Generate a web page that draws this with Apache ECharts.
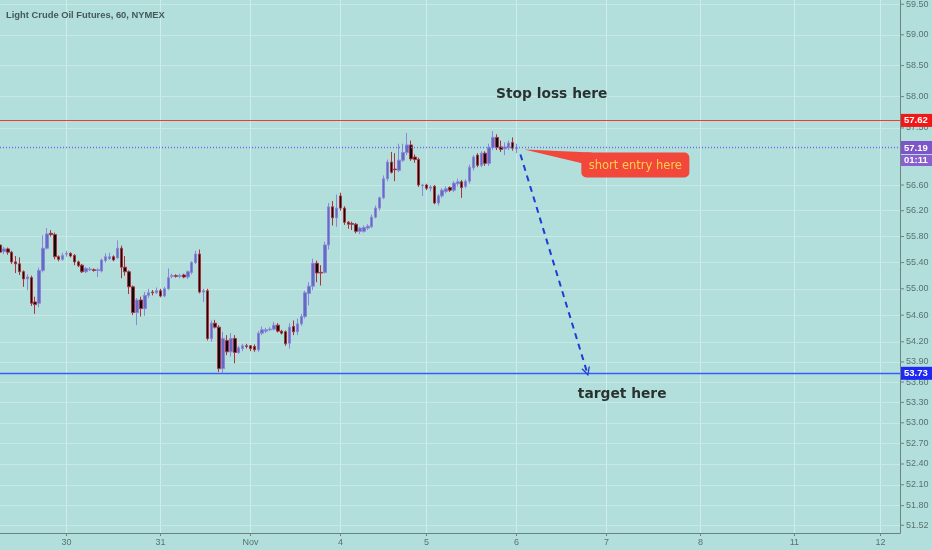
<!DOCTYPE html>
<html><head><meta charset="utf-8">
<script src="https://cdn.jsdelivr.net/npm/echarts@6/dist/echarts.min.js"></script>
<style>html,body{margin:0;padding:0;background:#b2dfdb}#c{width:932px;height:550px}</style>
</head><body><div id="c"></div>
<script>
// ---- data (hourly candles, index = hour slot) ----
const opens = [55.67,55.57,55.61,55.56,55.41,55.38,55.26,55.15,55.17,54.80,
54.78,55.28,55.62,55.85,55.83,55.49,55.45,55.53,55.54,55.51,
55.41,55.36,55.26,55.29,55.29,55.28,55.27,55.43,55.46,55.49,
55.47,55.62,55.33,55.26,55.03,54.64,54.83,54.70,54.90,54.95,
54.94,54.97,54.89,55.00,55.19,55.20,55.19,55.21,55.18,55.25,
55.40,55.53,54.95,54.97,54.25,54.48,54.42,53.80,54.22,54.05,
54.25,54.04,54.10,54.14,54.14,54.13,54.08,54.33,54.36,54.38,
54.39,54.45,54.36,54.35,54.18,54.43,54.35,54.47,54.58,54.93,
55.04,55.39,55.25,55.25,55.67,56.26,56.09,56.43,56.24,56.02,
56.00,55.99,55.88,55.88,55.93,55.95,56.10,56.24,56.40,56.70,
56.96,56.85,56.83,56.99,57.11,57.23,57.04,57.00,56.59,56.60,
56.55,56.58,56.32,56.43,56.50,56.56,56.52,56.62,56.65,56.58,
56.66,56.87,57.07,56.91,57.10,56.94,57.19,57.35,57.20,57.17,
57.19,57.27,57.17];
const closes = [55.56,55.61,55.56,55.41,55.38,55.26,55.15,55.18,54.78,54.76,
55.28,55.62,55.84,55.83,55.49,55.45,55.51,55.54,55.50,55.41,
55.35,55.26,55.31,55.30,55.28,55.29,55.44,55.49,55.49,55.44,
55.62,55.33,55.26,55.03,54.64,54.83,54.70,54.90,54.94,54.94,
54.97,54.89,55.00,55.17,55.20,55.19,55.20,55.18,55.26,55.40,
55.53,54.95,54.97,54.25,54.48,54.42,53.80,54.25,54.05,54.25,
54.04,54.11,54.14,54.13,54.10,54.08,54.33,54.38,54.38,54.39,
54.45,54.36,54.33,54.17,54.42,54.35,54.47,54.58,54.94,55.04,
55.39,55.24,55.24,55.67,56.26,56.09,56.24,56.24,56.02,55.99,
55.99,55.88,55.93,55.94,55.96,56.10,56.24,56.40,56.70,56.96,
56.80,56.84,56.99,57.11,57.23,57.01,57.00,56.60,56.60,56.55,
56.57,56.32,56.43,56.52,56.54,56.52,56.63,56.65,56.56,56.66,
56.88,57.04,56.91,57.10,56.94,57.19,57.35,57.19,57.16,57.20,
57.26,57.18,57.19];
const lows = [55.55,55.53,55.52,55.38,55.24,55.21,55.03,54.98,54.74,54.62,
54.72,55.25,55.60,55.80,55.45,55.42,55.43,55.49,55.48,55.36,
55.33,55.24,55.24,55.27,55.26,55.18,55.25,55.40,55.44,55.42,
55.46,55.16,55.20,54.92,54.60,54.45,54.58,54.59,54.86,54.90,
54.92,54.87,54.87,54.98,55.16,55.17,55.16,55.16,55.15,55.22,
55.38,54.93,54.80,54.22,54.20,54.40,53.75,53.74,54.00,53.98,
53.88,54.02,54.06,54.10,54.06,54.05,54.05,54.30,54.33,54.36,
54.37,54.34,54.31,54.14,54.10,54.30,54.30,54.44,54.55,54.75,
54.98,55.10,55.05,55.23,55.60,55.97,55.95,56.20,55.98,55.92,
55.90,55.85,55.84,55.86,55.90,55.93,56.08,56.20,56.38,56.66,
56.78,56.66,56.80,56.96,57.07,56.98,56.95,56.57,56.43,56.52,
56.50,56.30,56.28,56.40,56.47,56.49,56.49,56.58,56.40,56.55,
56.62,56.83,56.88,56.88,56.90,56.90,57.15,57.15,57.12,57.07,
57.15,57.14,57.10];
const highs = [55.68,55.64,55.63,55.58,55.50,55.48,55.28,55.22,55.20,54.88,
55.32,55.82,55.93,55.90,55.86,55.51,55.55,55.58,55.56,55.53,
55.43,55.38,55.33,55.33,55.31,55.31,55.46,55.54,55.55,55.51,
55.74,55.66,55.50,55.28,55.05,54.86,54.88,54.95,55.00,54.98,
55.02,55.00,55.03,55.31,55.23,55.22,55.23,55.23,55.28,55.42,
55.58,55.60,55.00,55.00,54.52,54.53,54.45,54.35,54.30,54.33,
54.30,54.14,54.17,54.17,54.15,54.16,54.36,54.43,54.41,54.42,
54.50,54.48,54.38,54.37,54.48,54.52,54.55,54.62,54.97,55.10,
55.46,55.43,55.36,55.72,56.32,56.35,56.45,56.48,56.27,56.04,
56.03,56.01,55.95,55.97,55.99,56.14,56.28,56.42,56.75,57.00,
57.12,57.10,57.25,57.25,57.42,57.30,57.08,57.03,56.62,56.62,
56.60,56.60,56.46,56.55,56.58,56.58,56.66,56.70,56.68,56.69,
56.92,57.07,57.10,57.13,57.13,57.25,57.45,57.40,57.30,57.27,
57.30,57.35,57.25];

const slotCount = 231;
const dayTickIndex = [17, 41, 64, 87, 109, 132, 155, 179, 203, 225];
const dayTickLabels = ['30', '31', 'Nov', '4', '5', '6', '7', '8', '11', '12'];
const priceTicks = [59.5, 59, 58.5, 58, 57.5, 56.6, 56.2, 55.8, 55.4, 55, 54.6, 54.2, 53.9, 53.6, 53.3, 53, 52.7, 52.4, 52.1, 51.8, 51.52];

const stopLoss = 57.62;
const lastPrice = 57.19;
const targetPrice = 53.73;
const countdown = '01:11';
const arrowFrom = [133, 57.08];
const arrowTo = [150, 53.75];
const noteX = [141, 159];
const noteY = [58.04, 53.42];
const noteText = ['Stop loss here', 'target here'];
const calloutPoint = [134, 57.16];
const calloutText = 'short entry here';
const titleText = 'Light Crude Oil Futures, 60, NYMEX';

// ---- build ----
const cats = Array.from({length: slotCount}, (_, i) => String(i));
const tickMap = {};
dayTickIndex.forEach((k, i) => { tickMap[k] = dayTickLabels[i]; });
const isDayTick = (i) => tickMap[i] !== undefined;
const candles = opens.map((o, i) => [o, closes[i], lows[i], highs[i]]);

const sans = '"Liberation Sans",sans-serif';
const axisGrey = '#6b8482';
const labelGrey = '#587270';

function boxLabel(bg, text) {
  return {
    show: true, position: 'end', distance: 1,
    formatter: text,
    backgroundColor: bg, color: '#fff', fontWeight: 'bold',
    fontFamily: sans, fontSize: 9.5, padding: [2, 2, 1, 3], width: 26, align: 'left'
  };
}

function levelSeries(value, color, dash, width, label) {
  return {
    type: 'line', data: [], silent: true, color: color,
    markLine: {
      silent: true, z: 5, symbol: ['none', 'none'], animation: false,
      emphasis: {disabled: true},
      lineStyle: {color: color, type: dash, width: width, opacity: 1},
      label: label,
      data: [{yAxis: value}]
    }
  };
}

const chart = echarts.init(document.getElementById('c'), null, {renderer: 'canvas'});
chart.setOption({
  backgroundColor: '#b2dfdb',
  animation: false,
  title: {
    text: titleText, left: 1, top: 6,
    textStyle: {fontFamily: sans, fontSize: 9.4, fontWeight: 'bold', color: '#44595a'}
  },
  grid: {left: 0, right: 32, top: 0, bottom: 17},
  xAxis: {
    type: 'category', data: cats, boundaryGap: false,
    axisLine: {lineStyle: {color: axisGrey}},
    axisTick: {interval: (i) => isDayTick(i), length: 3, lineStyle: {color: axisGrey}},
    axisLabel: {interval: (i) => isDayTick(i), formatter: (v) => tickMap[+v] || '',
      color: labelGrey, fontFamily: sans, fontSize: 9, margin: 5},
    splitLine: {show: true, interval: (i) => isDayTick(i), lineStyle: {color: '#cdeeea', width: 1}}
  },
  yAxis: {
    type: 'log', logBase: 10, position: 'right', min: 51.41, max: 59.57, scale: true,
    axisLine: {show: true, lineStyle: {color: axisGrey}},
    axisTick: {show: false}, axisLabel: {show: false},
    splitLine: {show: false}, minorSplitLine: {show: false}
  },
  series: [
    { // price grid lines and right-hand labels
      type: 'line', data: [], silent: true,
      markLine: {
        silent: true, z: 0, symbol: ['none', 'none'], animation: false,
        lineStyle: {color: '#c6e9e5', width: 1, type: 'solid'},
        label: {
          position: 'end', distance: 0,
          formatter: (p) => '{t|}{v|' + p.value.toFixed(2) + '}',
          rich: {
            t: {width: 4, height: 1, backgroundColor: axisGrey},
            v: {color: labelGrey, fontFamily: sans, fontSize: 9, padding: [0, 0, 0, 2]}
          }
        },
        emphasis: {disabled: true},
        data: priceTicks.map((v) => ({yAxis: v}))
      }
    },
    {
      type: 'candlestick', z: 2, barWidth: 3, data: candles,
      itemStyle: {color: '#5f6bc4', color0: '#14080a', borderColor: '#8c86d6', borderColor0: '#a8343e', borderWidth: 1}
    },
    levelSeries(stopLoss, '#f03a35', 'solid', 1.2, boxLabel('#f31616', stopLoss.toFixed(2))),
    levelSeries(targetPrice, '#3b5bff', 'solid', 1.4, boxLabel('#1f27f2', targetPrice.toFixed(2))),
    levelSeries(lastPrice, '#6f66f5', [1, 2], 1.3, {
      show: true, position: 'end', distance: 1,
      formatter: '{s| }\n{a|' + lastPrice.toFixed(2) + '}\n{b|' + countdown + '}',
      rich: {
        s: {height: 13, lineHeight: 13, fontSize: 9},
        a: {backgroundColor: '#7c55c8', color: '#fff', fontWeight: 'bold', fontFamily: sans, fontSize: 9.5,
          width: 26, height: 12, lineHeight: 13, padding: [1, 2, 0, 3]},
        b: {backgroundColor: '#8a60d0', color: '#fff', fontWeight: 'bold', fontFamily: sans, fontSize: 9.5,
          width: 26, height: 11, lineHeight: 13, padding: [0, 2, 0, 3]}
      }
    }),
    { // dashed arrow
      type: 'line', data: [], silent: true, color: '#1e3cd6',
      markLine: {
        silent: true, z: 6, animation: false,
        symbol: ['none', 'path://M0,10 L5,0 L10,10 L8.4,10 L5,3.2 L1.6,10 Z'],
        symbolSize: [9, 9],
        lineStyle: {color: '#1e3cd6', width: 2, type: [6, 5]},
        label: {show: false},
        emphasis: {disabled: true},
        data: [[{coord: arrowFrom}, {coord: arrowTo}]]
      }
    },
    { // text notes
      type: 'scatter', silent: true, z: 7, symbolSize: 1,
      itemStyle: {color: 'rgba(0,0,0,0)'},
      data: noteX.map((x, i) => ({value: [x, noteY[i]], name: noteText[i]})),
      label: {show: true, position: 'inside', formatter: (p) => p.name,
        fontFamily: '"DejaVu Sans",sans-serif', fontWeight: 'bold', fontSize: 13.8, color: '#050505'}
    },
    { // callout
      type: 'custom', silent: true, z: 8,
      data: [calloutPoint],
      renderItem: (params, api) => {
        const p = api.coord([api.value(0), api.value(1)]);
        const bx = p[0] + 57, by = p[1] + 3, bw = 108, bh = 25;
        const fill = '#f2473b';
        return {
          type: 'group',
          children: [
            {type: 'polygon', shape: {points: [[p[0], p[1]], [bx + 10, by], [bx + 10, by + 13]]}, style: {fill: fill}},
            {type: 'rect', shape: {x: bx, y: by, width: bw, height: bh, r: 5}, style: {fill: fill}},
            {type: 'text', style: {text: calloutText, x: bx + bw / 2, y: by + bh / 2 + 1, align: 'center', verticalAlign: 'middle',
              fill: '#ffd04a', font: '11.5px "DejaVu Sans", sans-serif'}}
          ]
        };
      }
    }
  ]
});
</script>
</body></html>
